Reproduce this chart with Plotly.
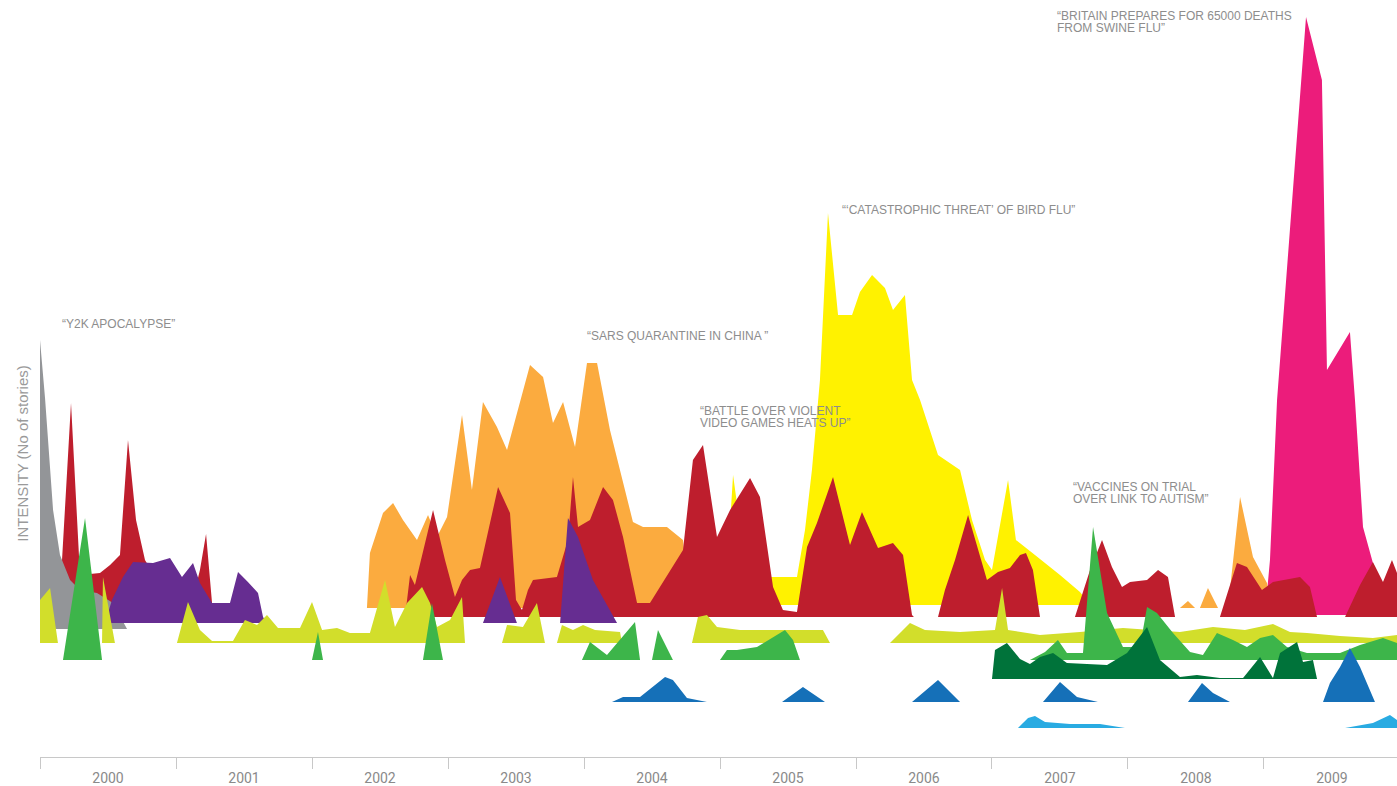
import plotly.graph_objects as go

START_YEAR = 2000
YEARS = list(range(2000, 2010))

# ---- data: x = years since Jan 2000, v = intensity (no. of stories, arbitrary units) ----
gray_x = [0.0, 0.0, 0.037, 0.096, 0.147, 0.221, 0.294, 0.419, 0.537, 0.640]
gray_v = [0, 289, 231, 119, 74, 49, 39, 36, 26, 0]

red_x = [0.118, 0.162, 0.228, 0.294, 0.441, 0.515, 0.588, 0.647, 0.706, 0.772, 0.882, 1.140, 1.176, 1.221, 1.265, 1.294,
         2.684, 2.721, 2.757, 2.831, 2.890, 2.978, 3.051, 3.103, 3.162, 3.235, 3.368, 3.456, 3.500, 3.544, 3.588, 3.625,
         3.801, 3.882, 3.919, 3.956, 4.044, 4.140, 4.213, 4.287, 4.390, 4.485, 4.728, 4.801, 4.875, 4.978, 5.074, 5.221,
         5.294, 5.390, 5.463, 5.566, 5.640, 5.713, 5.831, 5.956, 6.044, 6.162, 6.272, 6.346, 6.412, 6.426,
         6.603, 6.654, 6.728, 6.824, 6.897, 6.963, 7.044, 7.132, 7.206, 7.250, 7.301, 7.353,
         7.610, 7.669, 7.721, 7.809, 7.882, 7.956, 8.015, 8.140, 8.221, 8.294, 8.346,
         8.676, 8.801, 8.875, 8.985, 9.066, 9.265, 9.338, 9.390,
         9.596, 9.706, 9.801, 9.875, 9.941, 9.978]
red_v = [0, 57, 214, 42, 44, 52, 62, 177, 97, 57, 32, 27, 47, 83, 14, 0,
         0, 42, 32, 72, 107, 57, 20, 37, 47, 49, 130, 104, 17, 7, 27, 37,
         40, 77, 140, 90, 97, 130, 117, 80, 14, 14, 67, 157, 172, 80, 107, 139,
         120, 30, 7, 5, 70, 94, 140, 72, 105, 69, 74, 62, 2, 0,
         0, 27, 57, 102, 67, 37, 45, 49, 62, 64, 47, 0,
         0, 24, 47, 77, 50, 30, 35, 37, 47, 40, 0,
         0, 54, 50, 27, 35, 40, 30, 0,
         0, 32, 55, 35, 57, 44]

purple_x = [0.478, 0.529, 0.610, 0.684, 0.831, 0.956, 1.044, 1.125, 1.176, 1.265, 1.397, 1.456, 1.529, 1.603, 1.640, 1.669,
            3.257, 3.382, 3.507,
            3.824, 3.882, 3.956, 4.066, 4.243]
purple_v = [0, 23, 46, 61, 60, 65, 46, 60, 40, 20, 20, 51, 41, 30, 6, 0,
            0, 46, 0,
            0, 105, 86, 43, 0]

orange_x = [2.404, 2.426, 2.522, 2.596, 2.669, 2.772, 2.853, 2.919, 2.993, 3.103, 3.176, 3.257, 3.360, 3.434, 3.603,
            3.699, 3.772, 3.846, 3.934, 4.022, 4.096, 4.191, 4.360, 4.434, 4.610, 4.728, 4.779,
            8.382, 8.441, 8.493, 8.529, 8.588, 8.662, 8.735, 8.824, 8.919, 9.022, 9.059]
orange_v = [0, 55, 95, 105, 88, 68, 93, 71, 91, 193, 118, 206, 181, 158, 243,
            231, 185, 206, 161, 245, 245, 178, 86, 81, 81, 68, 0,
            0, 7, 0, 0, 20, 0, 0, 111, 51, 25, 0]

yellow_x = [5.037, 5.096, 5.162, 5.257, 5.368, 5.566, 5.625, 5.676, 5.735, 5.794, 5.868, 5.971, 6.029, 6.118, 6.213,
            6.272, 6.360, 6.412, 6.471, 6.603, 6.765, 6.853, 6.949, 7.000, 7.118, 7.176, 7.316, 7.500, 7.647, 7.721]
yellow_v = [0, 130, 65, 15, 28, 28, 75, 135, 225, 392, 290, 290, 313, 330, 317,
            295, 310, 225, 205, 150, 135, 85, 45, 35, 125, 65, 50, 30, 13, 0]

pink_x = [9.007, 9.044, 9.096, 9.309, 9.426, 9.463, 9.632, 9.669, 9.728, 9.801, 9.853]
pink_v = [0, 55, 215, 598, 535, 245, 283, 215, 88, 52, 0]

lime_x = [0.0, 0.0, 0.074, 0.132,
          0.456, 0.463, 0.551,
          1.007, 1.088, 1.176, 1.265, 1.419, 1.507, 1.596, 1.669, 1.750, 1.838, 1.912, 2.000, 2.074, 2.184, 2.279,
          2.426, 2.537, 2.610, 2.699, 2.809, 2.868, 2.919, 3.015, 3.103, 3.125,
          3.397, 3.434, 3.551, 3.654, 3.713,
          3.801, 3.838, 3.919, 3.993, 4.081, 4.265, 4.279,
          4.794, 4.838, 4.904, 4.978, 5.147, 5.757, 5.809,
          6.250, 6.397, 6.507, 6.765, 7.022, 7.074, 7.118, 7.353, 7.647, 7.963, 8.162, 8.382, 8.625, 8.860, 9.066,
          9.191, 9.316, 9.559, 9.801, 9.978]
lime_v = [0, 43, 55, 0,
          0, 66, 0,
          0, 41, 13, 2, 2, 23, 18, 28, 15, 15, 15, 41, 13, 15, 10,
          10, 63, 16, 40, 56, 40, 16, 23, 46, 0,
          0, 18, 16, 40, 0,
          0, 18, 13, 18, 13, 11, 0,
          0, 26, 28, 16, 13, 13, 0,
          0, 20, 13, 11, 13, 55, 13, 8, 11, 15, 13, 11, 16, 13, 19,
          11, 10, 7, 5, 8]

green_x = [0.169, 0.331, 0.456,
           2.000, 2.044, 2.081,
           2.816, 2.882, 2.963,
           3.985, 4.044, 4.169, 4.375, 4.412,
           4.500, 4.544, 4.654,
           5.000, 5.051, 5.125, 5.272, 5.478, 5.537, 5.588,
           7.279, 7.390, 7.485, 7.551, 7.669, 7.743, 7.846, 7.963, 8.088, 8.140, 8.213, 8.331, 8.456, 8.551, 8.654,
           8.772, 8.875, 8.971, 9.066, 9.169, 9.316, 9.559, 9.706, 9.875, 9.978]
green_v = [0, 142, 0,
           0, 28, 0,
           0, 57, 0,
           0, 18, 5, 38, 0,
           0, 30, 0,
           0, 10, 10, 13, 30, 20, 0,
           0, 8, 20, 7, 7, 133, 47, 13, 13, 53, 47, 27, 8, 5, 27,
           20, 13, 22, 25, 13, 7, 7, 15, 22, 17]

dkgreen_x = [7.000, 7.022, 7.110, 7.206, 7.279, 7.353, 7.449, 7.551, 7.846, 7.993, 8.140, 8.235, 8.382, 8.507, 8.676,
             8.846, 8.971, 9.066, 9.118, 9.243, 9.287, 9.360, 9.390]
dkgreen_v = [0, 29, 36, 20, 15, 22, 26, 16, 14, 26, 52, 19, 2, 4, 1,
             1, 22, 1, 26, 37, 17, 19, 0]

blue_x = [4.206, 4.287, 4.412, 4.596, 4.654, 4.757, 4.904,
          5.456, 5.610, 5.772,
          6.412, 6.603, 6.765,
          7.375, 7.500, 7.625, 7.779,
          8.441, 8.544, 8.625, 8.750,
          9.434, 9.485, 9.559, 9.632, 9.706, 9.816]
blue_v = [0, 5, 5, 25, 22, 4, 0,
          0, 15, 0,
          0, 22, 0,
          0, 20, 5, 0,
          0, 19, 9, 0,
          0, 19, 35, 54, 35, 0]

ltblue_x = [7.191, 7.265, 7.316, 7.390, 7.574, 7.794, 7.978,
            9.596, 9.801, 9.926, 9.978]
ltblue_v = [0, 10, 12, 6, 4, 4, 0,
            0, 5, 13, 8]

# ---- style: drawing order (back to front), colour and stream baseline ----
LAYERS = [
    ("pink", pink_x, pink_v, "#ec1c7b", 142),
    ("orange", orange_x, orange_v, "#fbab3f", 149),
    ("yellow", yellow_x, yellow_v, "#fff200", 152),
    ("red", red_x, red_v, "#be1e2d", 140),
    ("gray", gray_x, gray_v, "#939598", 128),
    ("purple", purple_x, purple_v, "#662d91", 134),
    ("lime", lime_x, lime_v, "#d2de2b", 114),
    ("green", green_x, green_v, "#3db54a", 97),
    ("dkgreen", dkgreen_x, dkgreen_v, "#00733a", 78),
    ("blue", blue_x, blue_v, "#1570b8", 55),
    ("ltblue", ltblue_x, ltblue_v, "#29abe2", 29),
]

fig = go.Figure()
for name, xs, vs, color, base in LAYERS:
    px = [START_YEAR + x for x in xs] + [START_YEAR + xs[-1], START_YEAR + xs[0]]
    py = [base + v for v in vs] + [base, base]
    fig.add_trace(go.Scatter(x=px, y=py, mode="lines", fill="toself", fillcolor=color,
                             line=dict(width=0, color=color), hoverinfo="skip",
                             showlegend=False, name=name))

NOTE_FONT = dict(family="Liberation Sans, Arial, sans-serif", size=12, color="#8d8d8d")
NOTES = [
    ("“Y2K APOCALYPSE”", 0.147, 433),
    ("“SARS QUARANTINE IN CHINA ”", 4.007, 421),
    ("“BATTLE OVER VIOLENT", 4.838, 346),
    ("VIDEO GAMES HEATS UP”", 4.838, 334),
    ("“‘CATASTROPHIC THREAT’ OF BIRD FLU”", 5.882, 547),
    ("“VACCINES ON TRIAL", 7.581, 270),
    ("OVER LINK TO AUTISM”", 7.581, 258),
    ("“BRITAIN PREPARES FOR 65000 DEATHS", 7.463, 741),
    ("FROM SWINE FLU”", 7.463, 729),
]
for text, x, y in NOTES:
    fig.add_annotation(x=START_YEAR + x, y=y, xref="x", yref="y", text=text, showarrow=False,
                       xanchor="left", yanchor="middle", font=NOTE_FONT)

fig.add_annotation(x=-0.0135, y=303, xref="paper", yref="y", text="INTENSITY (No of stories)",
                   textangle=-90, showarrow=False, xanchor="center", yanchor="middle",
                   font=dict(family="Liberation Sans, Arial, sans-serif", size=15, color="#9a9a9a"))

fig.update_layout(width=1397, height=786, margin=dict(l=40, r=0, t=0, b=29),
                  paper_bgcolor="white", plot_bgcolor="white", showlegend=False)
fig.update_xaxes(range=[2000, 2009.978], showgrid=False, zeroline=False, showline=True,
                 linecolor="#c8c8c8", linewidth=1,
                 tickmode="array", tickvals=[y + 0.5 for y in YEARS], ticktext=[str(y) for y in YEARS],
                 ticks="outside", ticklen=8, tickcolor="rgba(0,0,0,0)",
                 tickfont=dict(family="Roboto, sans-serif", size=14, color="#8a8a8a"),
                 minor=dict(tickmode="array", tickvals=YEARS, ticks="outside", ticklen=11,
                            tickcolor="#c8c8c8", tickwidth=1, showgrid=False))
fig.update_yaxes(range=[0, 757], visible=False, fixedrange=True)

fig.write_html("out.html", config={"displayModeBar": False},
               post_script="document.body.style.margin='0';")
